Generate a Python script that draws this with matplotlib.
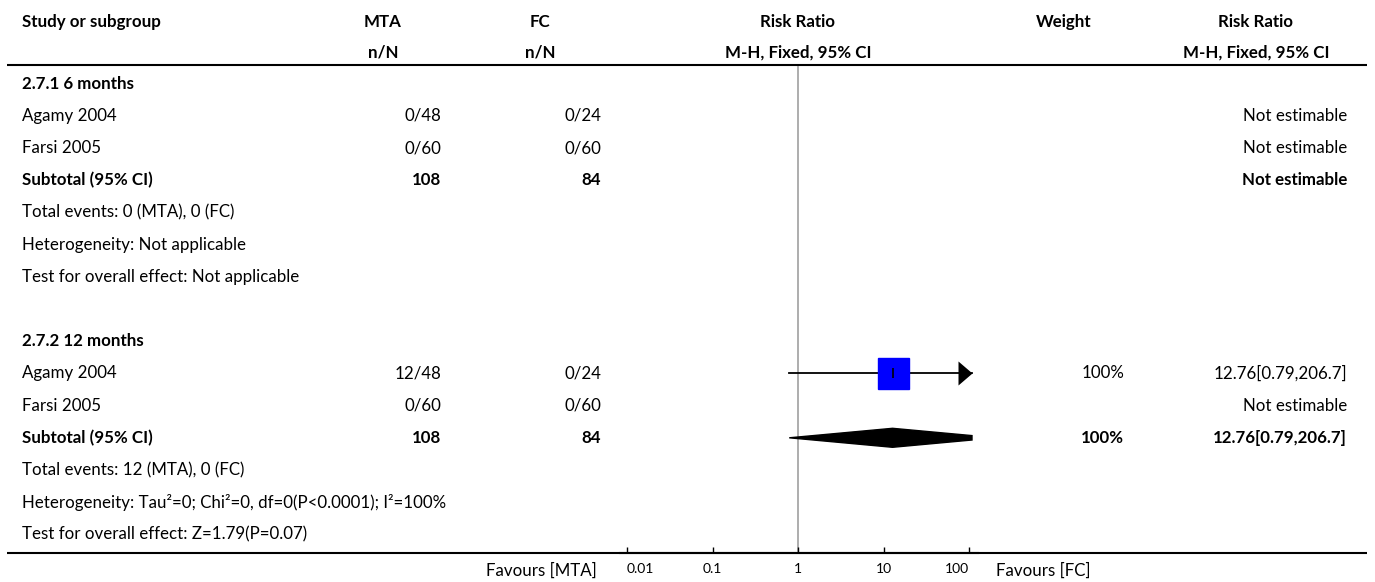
import matplotlib
matplotlib.use("Agg")
import matplotlib.pyplot as plt
import numpy as np
from matplotlib.patches import Polygon
from matplotlib.path import Path

plt.rcParams['font.family'] = ["Lato", "DejaVu Sans"]

# ---------------- data ----------------
group_titles = ["2.7.1 6 months", "2.7.2 12 months"]
study_names = [["Agamy 2004", "Farsi 2005"], ["Agamy 2004", "Farsi 2005"]]
mta_events = [[0, 0], [12, 0]]
mta_total = [[48, 60], [48, 60]]
fc_events = [[0, 0], [0, 0]]
fc_total = [[24, 60], [24, 60]]
rr_est = [[None, None], [12.76, None]]
rr_low = [[None, None], [0.79, None]]
rr_high = [[None, None], [206.7, None]]
study_weight = [[None, None], [100, None]]
sub_mta_total = [108, 108]
sub_fc_total = [84, 84]
sub_est = [None, 12.76]
sub_low = [None, 0.79]
sub_high = [None, 206.7]
sub_weight = [None, 100]
total_events_text = ["Total events: 0 (MTA), 0 (FC)",
                     "Total events: 12 (MTA), 0 (FC)"]
heterogeneity_text = ["Heterogeneity: Not applicable",
                      "Heterogeneity: Tau²=0; Chi²=0, df=0(P<0.0001); I²=100%"]
overall_text = ["Test for overall effect: Not applicable",
                "Test for overall effect: Z=1.79(P=0.07)"]
axis_ticks = [0.01, 0.1, 1, 10, 100]
axis_tick_labels = ["0.01", "0.1", "1", "10", "100"]
favours_left = "Favours [MTA]"
favours_right = "Favours [FC]"
header1 = ["Study or subgroup", "MTA", "FC", "Risk Ratio", "Weight", "Risk Ratio"]
header2 = ["n/N", "n/N", "M-H, Fixed, 95% CI", "M-H, Fixed, 95% CI"]

# ---------------- layout ----------------
W, H = 1375, 582
FS = 12.2
fig = plt.figure(figsize=(W / 100, H / 100), dpi=100)
bg = fig.add_axes([0, 0, 1, 1])
bg.set_xlim(0, W)
bg.set_ylim(H, 0)
bg.axis('off')

X_LEFT = 22
X_MTA_R, X_MTA_C = 441, 383
X_FC_R, X_FC_C = 601, 540
X_PLOT_C = 798
X_W_R, X_W_C = 1124, 1064
X_CI_R, X_CI_C = 1347, 1256
ROW0, STEP = 83.6, 32.2
TOP_LINE, BOT_LINE = 65, 553

PX_DEC, PX_ONE = 85.5, 798
PL, PR = 620, 978
CLIP_PX = 972


def row_y(i):
    return ROW0 + STEP * i


def txt(x, y, s, ha='left', bold=False, size=FS):
    bg.text(x, y, s, ha=ha, va='center', fontsize=size,
            fontweight='bold' if bold else 'normal', color='black')


# header
txt(X_LEFT, 22, header1[0], bold=True)
txt(X_MTA_C, 22, header1[1], 'center', True)
txt(X_FC_C, 22, header1[2], 'center', True)
txt(X_PLOT_C, 22, header1[3], 'center', True)
txt(X_W_C, 22, header1[4], 'center', True)
txt(X_CI_C, 22, header1[5], 'center', True)
txt(X_MTA_C, 53, header2[0], 'center', True)
txt(X_FC_C, 53, header2[1], 'center', True)
txt(X_PLOT_C, 53, header2[2], 'center', True)
txt(X_CI_C, 53, header2[3], 'center', True)

bg.plot([7, 1367], [TOP_LINE, TOP_LINE], color='black', lw=1.5, solid_capstyle='butt')
bg.plot([7, 1367], [BOT_LINE, BOT_LINE], color='black', lw=1.5, solid_capstyle='butt')

# forest axes
fx = fig.add_axes([PL / W, (H - BOT_LINE) / H, (PR - PL) / W, (BOT_LINE - TOP_LINE - 1) / H])
fx.set_xscale('log')
fx.set_xlim(10 ** ((PL - PX_ONE) / PX_DEC), 10 ** ((PR - PX_ONE) / PX_DEC))
fx.set_ylim(BOT_LINE, TOP_LINE + 1)
fx.patch.set_alpha(0)
for s in ['top', 'left', 'right']:
    fx.spines[s].set_visible(False)
fx.spines['bottom'].set_linewidth(1.5)
fx.set_yticks([])
fx.set_xticks(axis_ticks)
fx.set_xticklabels(axis_tick_labels)
fx.xaxis.set_minor_locator(matplotlib.ticker.NullLocator())
fx.tick_params(axis='x', direction='in', length=4, width=1, labelsize=10, pad=7)
labs = fx.get_xticklabels()
labs[0].set_ha('left')
labs[-1].set_ha('right')
fx.axvline(1, color='#a0a0a0', lw=1.2, zorder=1)

clip_val = 10 ** ((CLIP_PX - PX_ONE) / PX_DEC)
sq_px = 31
arrow_marker = Path([(-7, 12), (7, 0), (-7, -12), (-7, 12)],
                    [Path.MOVETO, Path.LINETO, Path.LINETO, Path.CLOSEPOLY])
head_len_px = 14

for g in range(2):
    base = g * 8
    txt(X_LEFT, row_y(base), group_titles[g], bold=True)
    for k in range(2):
        r = base + 1 + k
        y = row_y(r)
        txt(X_LEFT, y, study_names[g][k])
        txt(X_MTA_R, y, f"{mta_events[g][k]}/{mta_total[g][k]}", 'right')
        txt(X_FC_R, y, f"{fc_events[g][k]}/{fc_total[g][k]}", 'right')
        est = rr_est[g][k]
        if est is None:
            txt(X_CI_R, y, "Not estimable", 'right')
        else:
            lo, hi = rr_low[g][k], rr_high[g][k]
            txt(X_W_R, y, f"{study_weight[g][k]}%", 'right')
            txt(X_CI_R, y, f"{est:.2f}[{lo:.2f},{hi:.1f}]", 'right')
            right_end = min(hi, clip_val)
            fx.plot([lo, right_end], [y, y], color='black', lw=1.3, zorder=3)
            fx.plot([est], [y], marker='s', ms=sq_px * 0.72, color='#0000ff',
                    mec='#0000ff', zorder=4)
            fx.plot([est], [y], marker='|', ms=7, mew=1.2, color='black', zorder=5)
            if hi > clip_val:
                head_center = 10 ** (np.log10(clip_val) - head_len_px / 2 / PX_DEC)
                fx.plot([head_center], [y], marker=arrow_marker, ms=24 * 0.72,
                        color='black', mec='black', mew=0, zorder=5)
    # subtotal
    r = base + 3
    y = row_y(r)
    txt(X_LEFT, y, "Subtotal (95% CI)", bold=True)
    txt(X_MTA_R, y, f"{sub_mta_total[g]}", 'right', True)
    txt(X_FC_R, y, f"{sub_fc_total[g]}", 'right', True)
    if sub_est[g] is None:
        txt(X_CI_R, y, "Not estimable", 'right', True)
    else:
        e, lo, hi = sub_est[g], sub_low[g], sub_high[g]
        txt(X_W_R, y, f"{sub_weight[g]}%", 'right', True)
        txt(X_CI_R, y, f"{e:.2f}[{lo:.2f},{hi:.1f}]", 'right', True)
        hh = 9.5
        if hi > clip_val:
            frac = (np.log10(hi) - np.log10(clip_val)) / (np.log10(hi) - np.log10(e))
            hc = hh * frac
            pts = [(lo, y), (e, y - hh), (clip_val, y - hc), (clip_val, y + hc), (e, y + hh)]
        else:
            pts = [(lo, y), (e, y - hh), (hi, y), (e, y + hh)]
        fx.add_patch(Polygon(pts, closed=True, color='black', zorder=4))
    txt(X_LEFT, row_y(base + 4), total_events_text[g])
    txt(X_LEFT, row_y(base + 5), heterogeneity_text[g])
    txt(X_LEFT, row_y(base + 6), overall_text[g])

txt(597, 571, favours_left, 'right')
txt(996, 571, favours_right, 'left')

fig.savefig("out.png", dpi=100)
